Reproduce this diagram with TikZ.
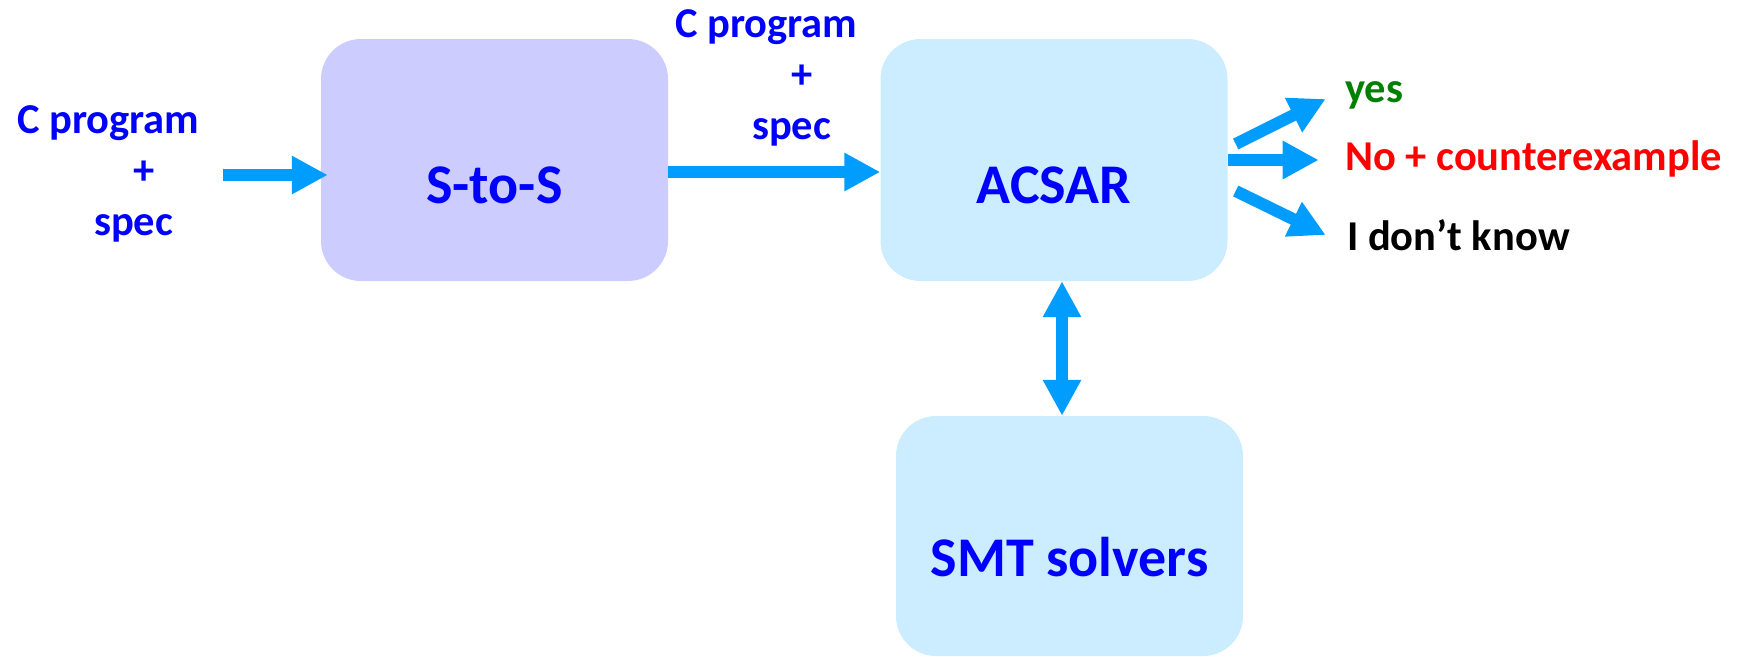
\documentclass[tikz,border=0pt]{standalone}
\usepackage{fontspec}
\setmainfont{Carlito}
\usetikzlibrary{arrows.meta,calc}
\definecolor{txtblue}{RGB}{0,0,255}
\definecolor{arrowblue}{RGB}{0,157,255}
\definecolor{lavender}{RGB}{204,204,255}
\definecolor{skyfill}{RGB}{204,236,255}
\definecolor{yesgreen}{RGB}{0,128,0}
\tikzset{
  box/.style={rounded corners=40pt, inner sep=0pt, minimum width=347pt,
    minimum height=242pt, text=txtblue, font=\fontsize{56}{60}\bfseries\selectfont},
  small/.style={font=\fontsize{42.5}{51}\bfseries\selectfont, inner sep=0pt},
  flow/.style={draw=arrowblue, line width=12pt,
    -{Triangle[length=36pt,width=36pt]}},
  flowboth/.style={draw=arrowblue, line width=12pt,
    {Triangle[length=36pt,width=36pt]}-{Triangle[length=36pt,width=36pt]}},
}
\begin{document}
\begin{tikzpicture}[x=1pt,y=-1pt]
\useasboundingbox (0,0) rectangle (1740,656);

% processing stages
\node[box, fill=lavender, text height=86pt, text depth=0pt] (stos) at (494.5,160) {S-to-S};
\node[box, fill=skyfill, text height=86pt, text depth=0pt] (acsar) at (1054,160) {ACSAR};
\node[box, fill=skyfill, minimum height=240pt, text height=80pt, text depth=0pt] (smt) at (1069.5,536) {SMT solvers};

% input description and intermediate description (anchored on the last line)
\node[small, text=txtblue, align=left, anchor=base west] (input) at (17,235)
  {C program\\\hspace*{116pt}+\\\hspace*{77pt}spec};
\node[small, text=txtblue, align=left, anchor=base west] (mid) at (675,139)
  {C program\\\hspace*{116pt}+\\\hspace*{77pt}spec};

% verdicts
\node[small, text=yesgreen, anchor=base west] (yes) at (1345,102) {yes};
\node[small, text=red, anchor=base west] (no) at (1345,170) {No + counterexample};
\node[small, text=black, anchor=base west] (dk) at (1347,250) {I don’t know};

% connectors
\coordinate (inA) at (223,175);
\draw[flow] (inA) -- ($(inA -| stos.west)+(7,0)$);
\draw[flow] ($(stos.east)+(0,12)$) -- ($(acsar.west)+(0,12)$);
\draw[flow] ($(acsar.east)+(8,-16)$) -- ($(acsar.east)+(98,-61)$);
\draw[flow] (acsar.east) -- ($(acsar.east)+(91,0)$);
\draw[flow] ($(acsar.east)+(8,31)$) -- ($(acsar.east)+(98,75)$);
\draw[flowboth] (acsar.south -| 1062,0) -- (smt.north -| 1062,0);
\end{tikzpicture}
\end{document}
